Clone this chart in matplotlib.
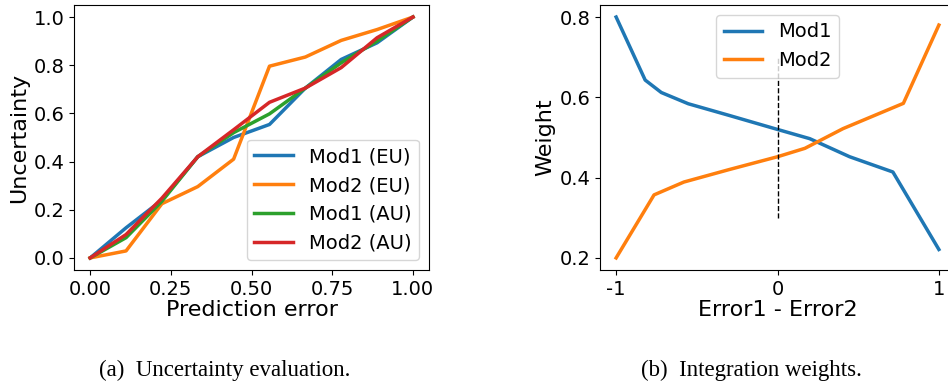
import numpy as np
import matplotlib
matplotlib.use('Agg')
import matplotlib.pyplot as plt

# (a) uncertainty evaluation
err_x   = np.linspace(0.0, 1.0, 10)
mod1_eu = [0.0, 0.125, 0.24, 0.42, 0.50, 0.554, 0.705, 0.824, 0.893, 1.0]
mod2_eu = [0.0, 0.029, 0.225, 0.296, 0.41, 0.796, 0.834, 0.903, 0.948, 1.0]
mod1_au = [0.0, 0.084, 0.235, 0.42, 0.52, 0.598, 0.705, 0.81, 0.90, 1.0]
mod2_au = [0.0, 0.097, 0.248, 0.42, 0.532, 0.646, 0.705, 0.79, 0.914, 1.0]

# (b) integration weights
w1_x = [-1.0, -0.82, -0.72, -0.553, -0.3, 0.0, 0.2, 0.447, 0.715, 1.0]
w1_y = [0.80, 0.643, 0.612, 0.584, 0.555, 0.520, 0.497, 0.452, 0.414, 0.221]
w2_x = [-1.0, -0.765, -0.58, -0.3, 0.0, 0.17, 0.406, 0.78, 1.0]
w2_y = [0.20, 0.357, 0.389, 0.42, 0.452, 0.473, 0.522, 0.585, 0.780]

fs  = 14   # ticks, legend
lfs = 16   # axis labels
lw  = 2.5

fig = plt.figure(figsize=(9.48, 3.84), dpi=100)

ax1 = fig.add_axes([0.0781, 0.297, 0.3745, 0.690])
ax1.plot(err_x, mod1_eu, color='C0', lw=lw, label='Mod1 (EU)')
ax1.plot(err_x, mod2_eu, color='C1', lw=lw, label='Mod2 (EU)')
ax1.plot(err_x, mod1_au, color='C2', lw=lw, label='Mod1 (AU)')
ax1.plot(err_x, mod2_au, color='C3', lw=lw, label='Mod2 (AU)')
ax1.set_xticks([0.0, 0.25, 0.5, 0.75, 1.0])
ax1.set_yticks([0.0, 0.2, 0.4, 0.6, 0.8, 1.0])
ax1.tick_params(labelsize=fs)
ax1.set_xlabel('Prediction error', fontsize=lfs, labelpad=1)
ax1.set_ylabel('Uncertainty', fontsize=lfs, labelpad=3)
ax1.legend(loc='lower right', fontsize=fs)

ax2 = fig.add_axes([0.6329, 0.297, 0.3745, 0.690])
ax2.plot(w1_x, w1_y, color='C0', lw=lw, label='Mod1')
ax2.plot(w2_x, w2_y, color='C1', lw=lw, label='Mod2')
ax2.vlines(0, 0.3, 0.7, colors='k', linestyles='--', lw=1)
ax2.set_xticks([-1, 0, 1])
ax2.set_xticklabels(['-1', '0', '1'])
ax2.set_yticks([0.2, 0.4, 0.6, 0.8])
ax2.tick_params(labelsize=fs)
ax2.set_xlabel('Error1 - Error2', fontsize=lfs, labelpad=1)
ax2.set_ylabel('Weight', fontsize=lfs, labelpad=3)
ax2.legend(loc='upper center', fontsize=fs)

fig.text(0.2373, 0.021, '(a)  Uncertainty evaluation.', ha='center', va='baseline',
         fontsize=16.5, family='Liberation Serif')
fig.text(0.7927, 0.021, '(b)  Integration weights.', ha='center', va='baseline',
         fontsize=16.5, family='Liberation Serif')

fig.savefig('out.png', dpi=100)
